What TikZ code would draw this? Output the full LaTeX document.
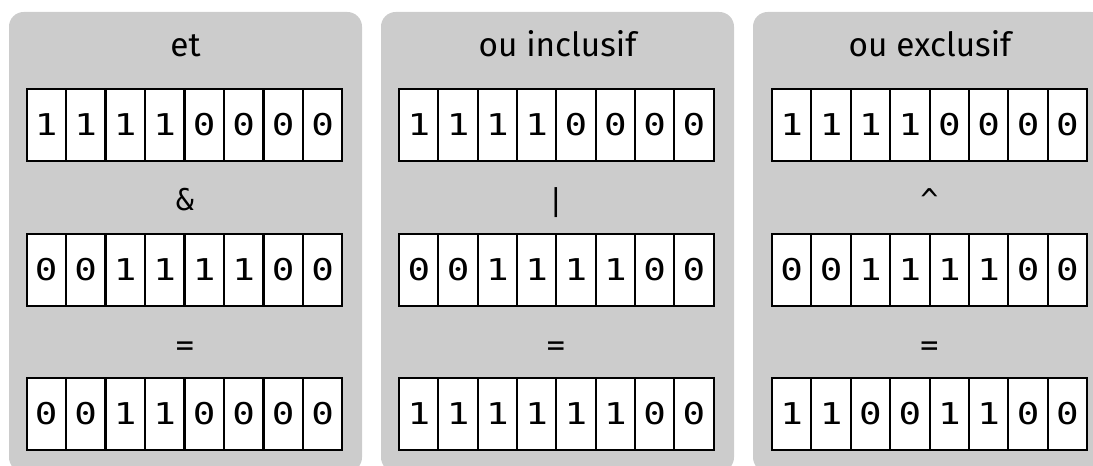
\documentclass[tikz,border=0pt]{standalone}
\usepackage{fontspec}
\setmainfont{Fira Sans}
\newfontfamily\bitfont[FakeStretch=1.25]{DejaVu Sans Mono}
\newfontfamily\opfont{DejaVu Sans Mono}
\definecolor{panelgray}{HTML}{CCCCCC}

\tikzset{
  panel/.style={fill=panelgray, rounded corners=11pt},
  title/.style={anchor=base, font=\fontsize{25}{30}\selectfont},
  bit/.style={draw, fill=white, line width=1.5pt, minimum width=29.6pt,
    minimum height=54pt, inner sep=0pt, font=\bitfont\fontsize{22.5}{27}\selectfont},
  op/.style={anchor=base, font=\opfont\fontsize{22.5}{27}\selectfont}
}

\begin{document}
\begin{tikzpicture}[x=0.75pt, y=-0.75pt]
	\clip (0,0) rectangle (1093,466);
	
	% et
	\fill[panel] (9,12) rectangle (362,472);
	\node[title] (et) at (185.5,57) {et};
	\foreach \b [count=\i] in {1,1,1,1,0,0,0,0}
		\node[bit] (et-a\i) at (6.75+39.5*\i,125) {\b};
	\node[op] (et-op) at (185,211) {\&};
	\foreach \b [count=\i] in {0,0,1,1,1,1,0,0}
		\node[bit] (et-b\i) at (6.75+39.5*\i,270) {\b};
	\node[op] (et-eq) at (185,355.5) {=};
	\foreach \b [count=\i] in {0,0,1,1,0,0,0,0}
		\node[bit] (et-c\i) at (6.75+39.5*\i,414) {\b};
	
	% ou inclusif
	\fill[panel] (381,12) rectangle (734,472);
	\node[title] (ou) at (557.5,57) {ou inclusif};
	\foreach \b [count=\i] in {1,1,1,1,0,0,0,0}
		\node[bit] (ou-a\i) at (379.5+39.3*\i,125) {\b};
	\node[op] (ou-op) at (556,211) {|};
	\foreach \b [count=\i] in {0,0,1,1,1,1,0,0}
		\node[bit] (ou-b\i) at (379.5+39.3*\i,270) {\b};
	\node[op] (ou-eq) at (556,355.5) {=};
	\foreach \b [count=\i] in {1,1,1,1,1,1,0,0}
		\node[bit] (ou-c\i) at (379.5+39.3*\i,414) {\b};
	
	% ou exclusif
	\fill[panel] (753,12) rectangle (1106,472);
	\node[title] (xou) at (930,57) {ou exclusif};
	\foreach \b [count=\i] in {1,1,1,1,0,0,0,0}
		\node[bit] (xou-a\i) at (752.3+39.4*\i,125) {\b};
	\node[op] (xou-op) at (929.5,211) {\textasciicircum};
	\foreach \b [count=\i] in {0,0,1,1,1,1,0,0}
		\node[bit] (xou-b\i) at (752.3+39.4*\i,270) {\b};
	\node[op] (xou-eq) at (929.5,355.5) {=};
	\foreach \b [count=\i] in {1,1,0,0,1,1,0,0}
		\node[bit] (xou-c\i) at (752.3+39.4*\i,414) {\b};
\end{tikzpicture}
\end{document}
